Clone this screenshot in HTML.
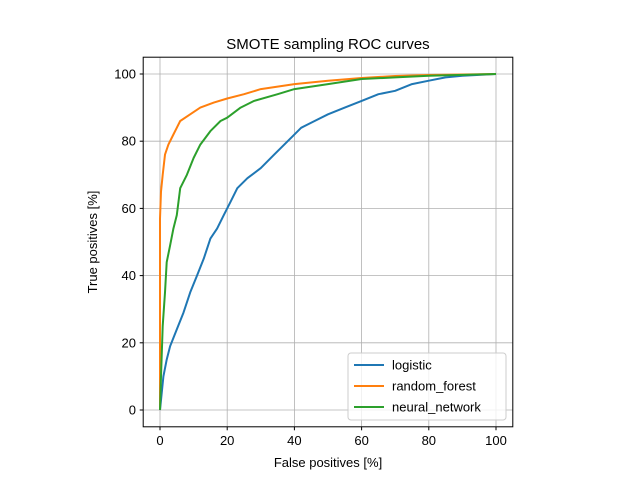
<!DOCTYPE html>
<html><head><meta charset="utf-8"><style>
body{margin:0;background:#fff}
svg{font-family:"Liberation Sans","DejaVu Sans",sans-serif}
</style></head><body>
<svg id="chart" width="640" height="480" viewBox="0 0 640 480">
<rect width="640" height="480" fill="#fff"/>
<text x="328" y="49" font-size="15" text-anchor="middle">SMOTE sampling ROC curves</text>
<g id="grid"></g>
<g id="series"></g>
<rect x="143.2" y="57.2" width="369.6" height="369.6" fill="none" stroke="#000" stroke-width="1"/>
<g id="ticks"></g>
<text x="328" y="467" font-size="13" text-anchor="middle">False positives [%]</text>
<text transform="translate(97,242) rotate(-90)" font-size="13" text-anchor="middle">True positives [%]</text>
<g id="legend"></g>
</svg>
<script>
const seriesNames=["logistic","random_forest","neural_network"];
const seriesColors=["#1f77b4","#ff7f0e","#2ca02c"];
const logisticFpr=[0,0.5,1,2,3,5,7,9,11,13,15,17,19,21,23,26,30,34,38,42,46,50,55,60,65,70,75,80,85,90,100];
const logisticTpr=[0,5,10,15,19,24,29,35,40,45,51,54,58,62,66,69,72,76,80,84,86,88,90,92,94,95,97,98,99,99.5,100];
const rfFpr=[0,0,0.3,0.8,1.5,2.5,4,6,9,12,16,20,25,30,40,50,60,70,80,100];
const rfTpr=[0,57,65,70,76,79,82,86,88,90,91.5,92.7,94,95.5,97,98,98.8,99.4,99.7,100];
const nnFpr=[0,0.3,0.8,1.5,2,3,4,5,6,8,10,12,15,18,20,24,28,35,40,50,60,70,80,100];
const nnTpr=[0,10,25,35,44,49,54,58,66,70,75,79,83,86,87,90,92,94,95.5,97,98.5,99,99.5,100];
const xTicks=[0,20,40,60,80,100];
const yTicks=[0,20,40,60,80,100];
const NS="http://www.w3.org/2000/svg";
const sx=v=>160+v*3.36, sy=v=>410-v*3.36;
function mk(tag,attrs,parent){const e=document.createElementNS(NS,tag);for(const k in attrs)e.setAttribute(k,attrs[k]);parent.appendChild(e);return e;}
const grid=document.getElementById('grid'),ticks=document.getElementById('ticks');
xTicks.forEach(t=>{
 const g=mk('line',{x1:sx(t),x2:sx(t),y1:57.2,y2:426.8,stroke:'#b0b0b0','stroke-width':0.8},grid);
 
 
 mk('line',{x1:sx(t),x2:sx(t),y1:426.8,y2:430.3,stroke:'#000'},ticks);
 const tx=mk('text',{x:sx(t),y:445,'font-size':13,'text-anchor':'middle'},ticks);tx.textContent=t;
 
 
});
yTicks.forEach(t=>{
 const g=mk('line',{x1:143.2,x2:512.8,y1:sy(t),y2:sy(t),stroke:'#b0b0b0','stroke-width':0.8},grid);
 
 
 mk('line',{x1:139.7,x2:143.2,y1:sy(t),y2:sy(t),stroke:'#000'},ticks);
 const tx=mk('text',{x:136,y:sy(t)+4.5,'font-size':13,'text-anchor':'end'},ticks);tx.textContent=t;
 
 
});
const data=[[logisticFpr,logisticTpr],[rfFpr,rfTpr],[nnFpr,nnTpr]];
const sg=document.getElementById('series');
data.forEach((d,i)=>{
 const pts=d[0].map((x,j)=>sx(x).toFixed(1)+','+sy(d[1][j]).toFixed(1)).join(' ');
 const p=mk('polyline',{points:pts,fill:'none',stroke:seriesColors[i],'stroke-width':2,'stroke-linejoin':'round'},sg);
 
 
});
const lg=document.getElementById('legend');
mk('rect',{x:348,y:353,width:158,height:67,rx:3,fill:'#fff','fill-opacity':0.8,stroke:'#ccc'},lg);
seriesNames.forEach((n,i)=>{
 const y=365+i*21;
 const l=mk('line',{x1:354,x2:384,y1:y,y2:y,stroke:seriesColors[i],'stroke-width':2},lg);
 
 
 const t=mk('text',{x:392,y:y+4.5,'font-size':13},lg);t.textContent=n;
 
 
});
</script>
</body></html>
